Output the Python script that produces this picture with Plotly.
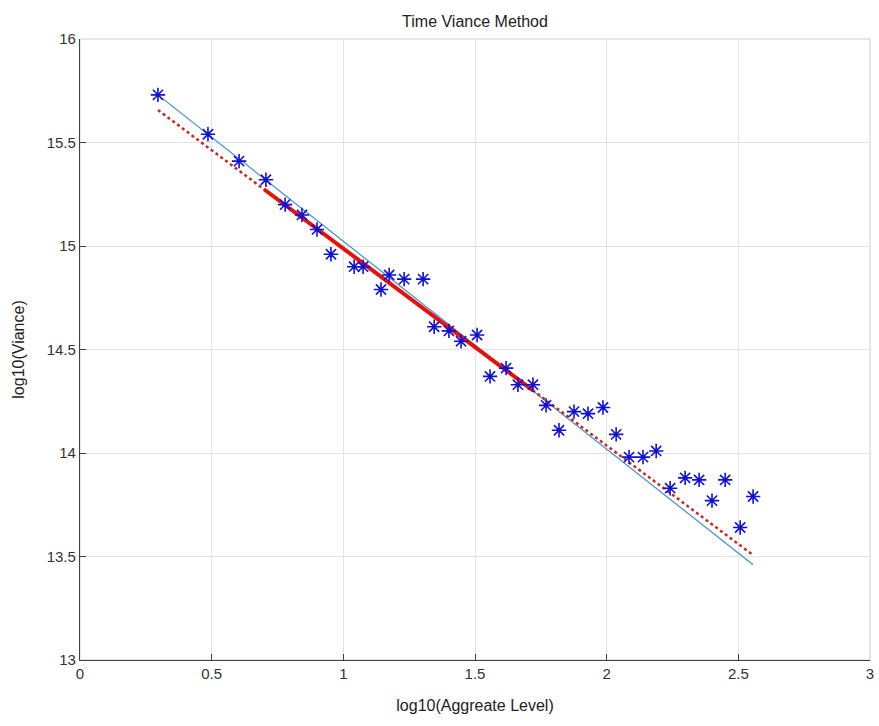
import plotly.graph_objects as go

# Data
agg_log = [0.296, 0.486, 0.604, 0.706, 0.779, 0.843, 0.900, 0.953, 1.041, 1.075,
           1.143, 1.174, 1.231, 1.303, 1.345, 1.401, 1.447, 1.508, 1.557, 1.618,
           1.663, 1.720, 1.770, 1.819, 1.876, 1.929, 1.986, 2.036, 2.085, 2.138,
           2.188, 2.241, 2.298, 2.351, 2.400, 2.450, 2.507, 2.556]
var_log = [15.73, 15.54, 15.41, 15.32, 15.20, 15.15, 15.08, 14.96, 14.90, 14.90,
           14.79, 14.86, 14.84, 14.84, 14.61, 14.59, 14.54, 14.57, 14.37, 14.41,
           14.33, 14.33, 14.23, 14.11, 14.20, 14.19, 14.22, 14.09, 13.98, 13.98,
           14.01, 13.83, 13.88, 13.87, 13.77, 13.87, 13.64, 13.79]

fit_x = [0.296, 2.556]
blue_fit_y = [15.73, 13.46]
red_fit_y = [15.657, 13.507]
seg_x = [0.70, 1.72]
seg_y = [15.273, 14.303]

x_ticks = [0, 0.5, 1, 1.5, 2, 2.5, 3]
y_ticks = [13, 13.5, 14, 14.5, 15, 15.5, 16]

fig = go.Figure()
fig.add_trace(go.Scatter(x=fit_x, y=blue_fit_y, mode="lines",
                         line=dict(color="#3f8fd2", width=1.2), showlegend=False))
fig.add_trace(go.Scatter(x=fit_x, y=red_fit_y, mode="lines",
                         line=dict(color="#c8281e", width=2.5, dash="dot"), showlegend=False))
fig.add_trace(go.Scatter(x=seg_x, y=seg_y, mode="lines",
                         line=dict(color="#e8100a", width=4), showlegend=False))
fig.add_trace(go.Scatter(x=agg_log, y=var_log, mode="markers",
                         marker=dict(symbol="asterisk-open", size=12, color="#1010d8",
                                     line=dict(color="#1010d8", width=1.6)),
                         showlegend=False))

font_family = "Liberation Sans, Arial, sans-serif"
axis_common = dict(showgrid=True, gridcolor="#e3e3e3", gridwidth=1, zeroline=False,
                   showline=True, linecolor="#404040", linewidth=1.2,
                   ticks="inside", ticklen=6, tickcolor="#404040",
                   automargin=False, ticklabeloverflow="allow",
                   tickfont=dict(family=font_family, size=15, color="#333333"))

fig.update_layout(
    width=879, height=726,
    margin=dict(l=80, r=9, t=39, b=66),
    paper_bgcolor="white", plot_bgcolor="white",
    title=dict(text="Time Viance Method", x=0.5, xanchor="center", xref="paper",
               y=1, yref="paper", yanchor="bottom", pad=dict(b=12),
               font=dict(family=font_family, size=16, color="#222222")),
    xaxis=dict(range=[0, 3], tickvals=x_ticks, ticktext=[str(v) for v in x_ticks],
               title=dict(text="log10(Aggreate Level)", standoff=18,
                          font=dict(family=font_family, size=16, color="#222222")),
               **axis_common),
    yaxis=dict(range=[13, 16], tickvals=y_ticks, ticktext=[str(v) for v in y_ticks],
               title=dict(text="log10(Viance)", standoff=18,
                          font=dict(family=font_family, size=16, color="#222222")),
               **axis_common),
    shapes=[dict(type="rect", xref="paper", yref="paper", x0=0, y0=0, x1=1, y1=1,
                 line=dict(color="#d0d0d0", width=1), layer="below")],
)

fig.write_html("out.html")
